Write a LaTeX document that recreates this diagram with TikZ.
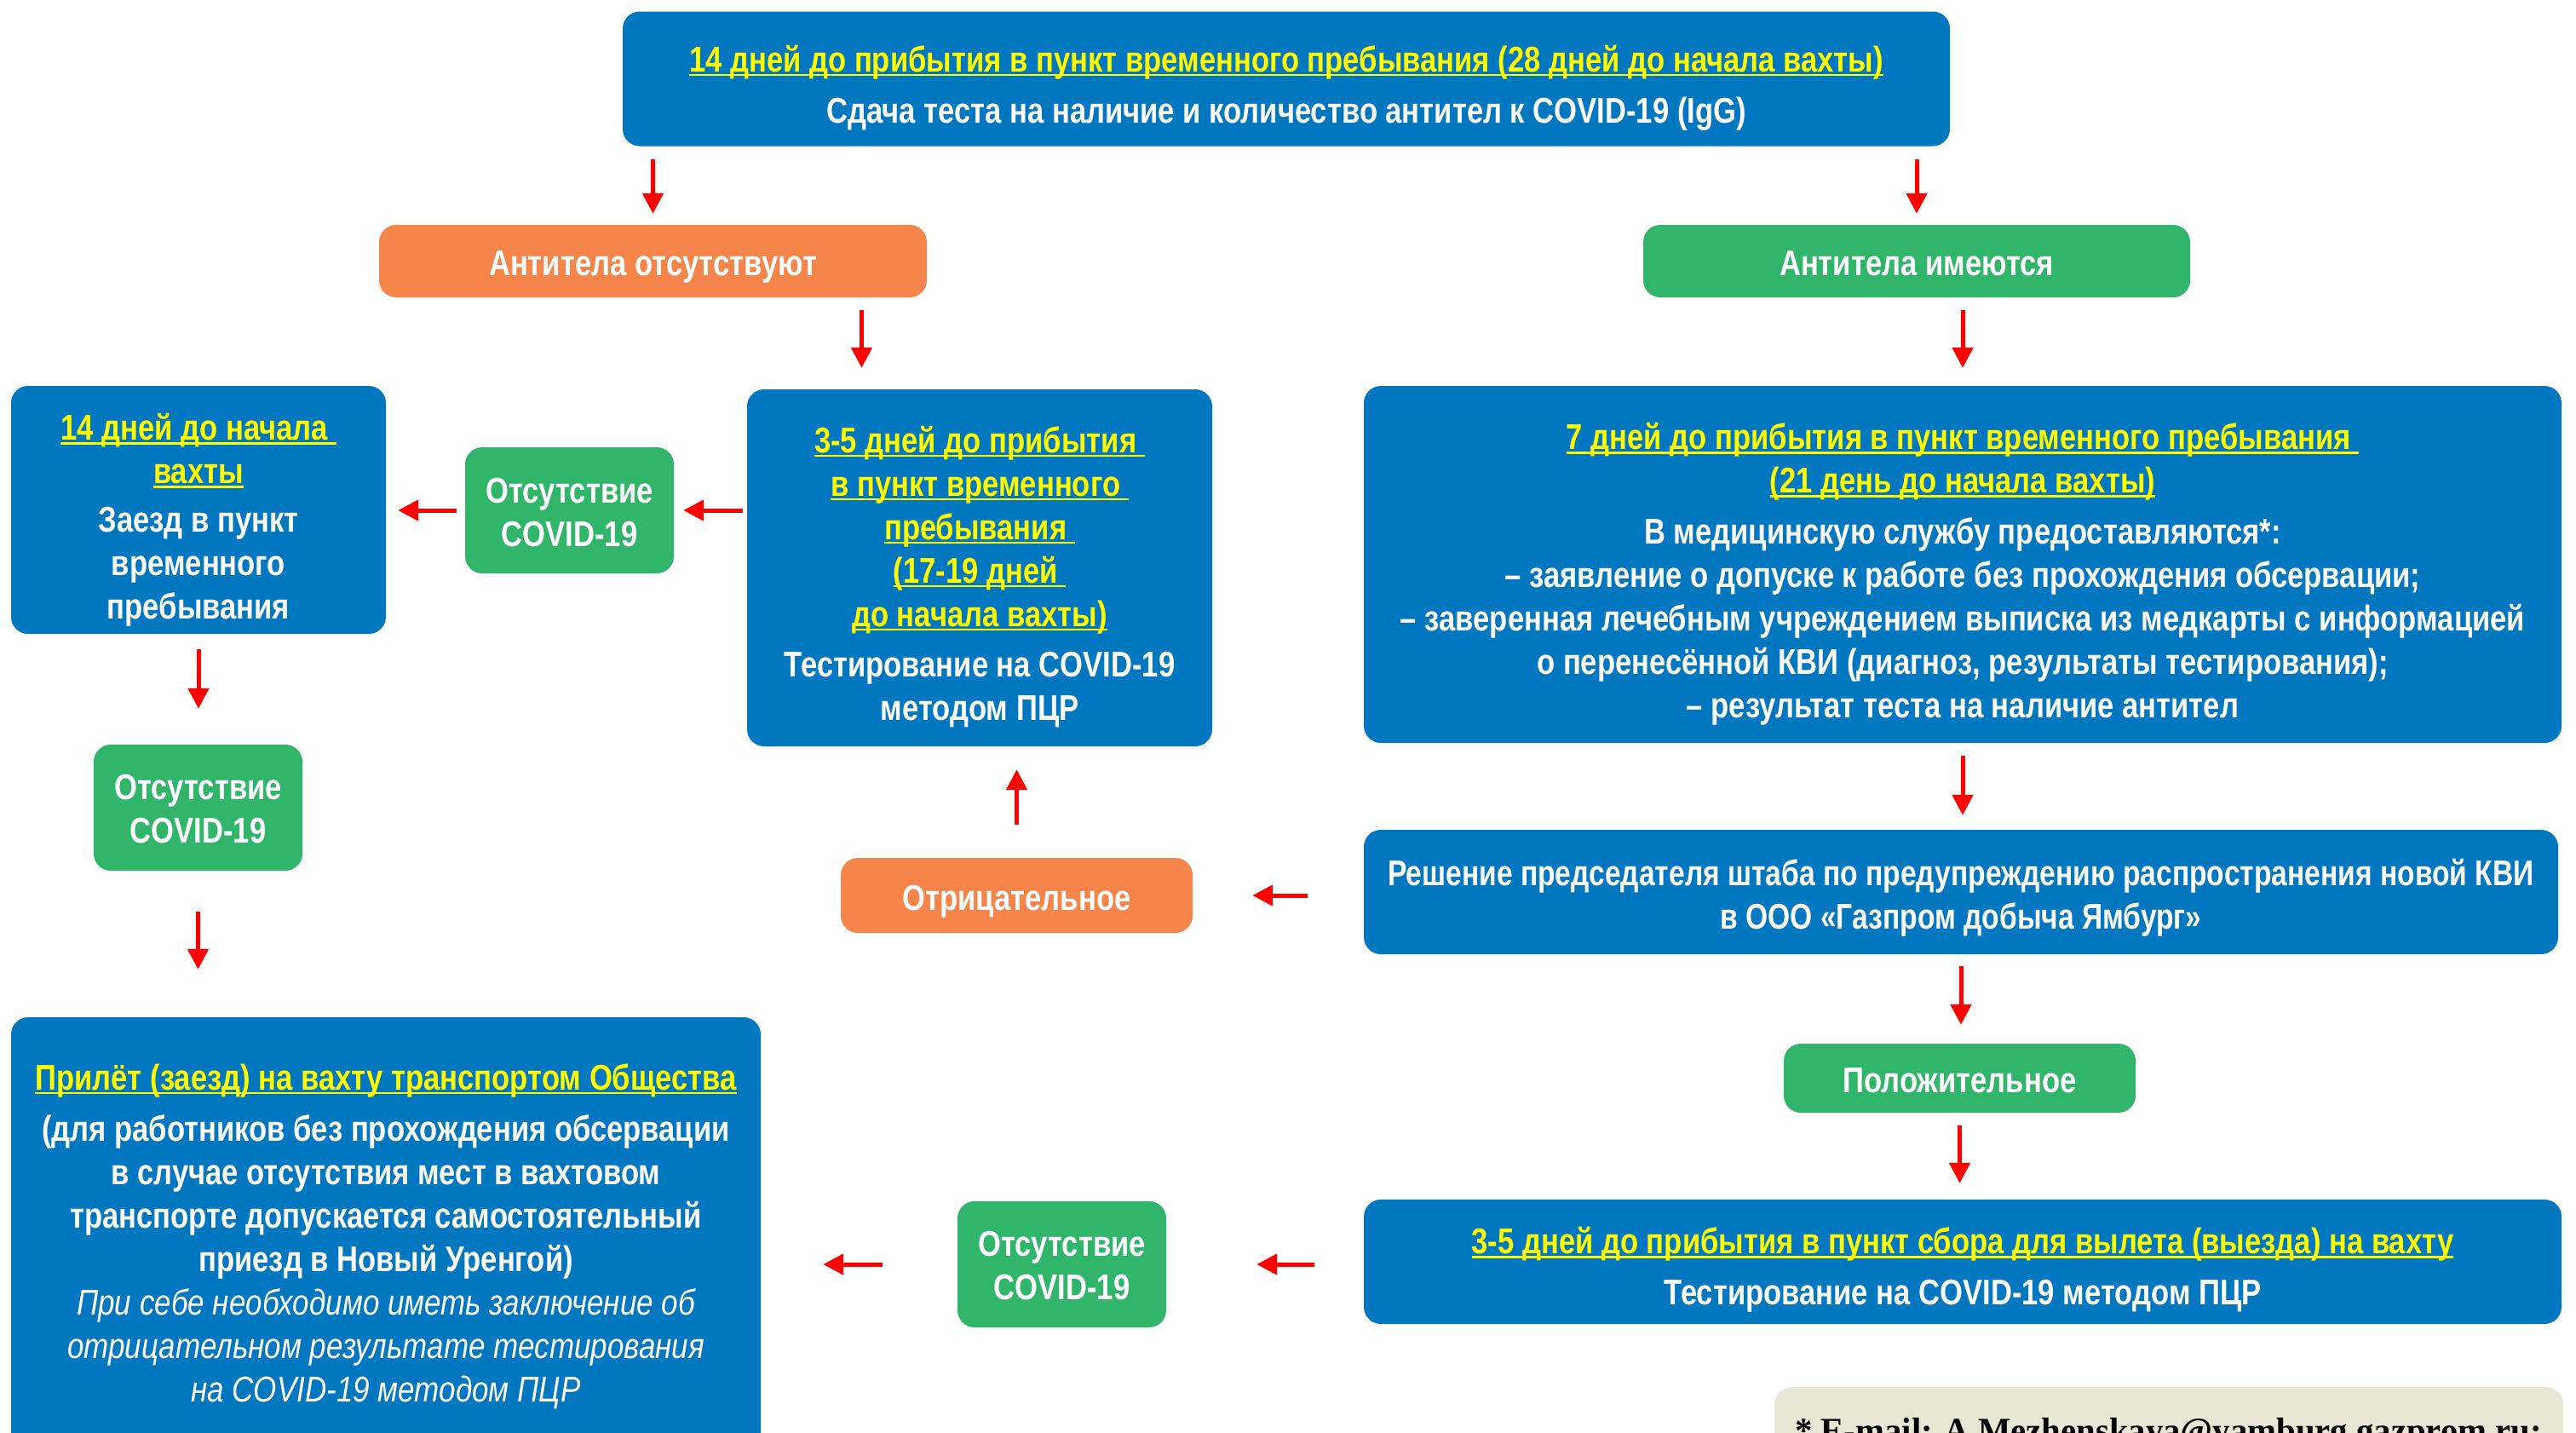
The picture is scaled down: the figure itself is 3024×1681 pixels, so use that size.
\documentclass[tikz,border=0pt]{standalone}
\usepackage{fontspec}
\setmainfont{Liberation Sans}[FakeStretch=0.824]
\newfontfamily\itfont{Liberation Sans}[FakeStretch=0.833]
\newfontfamily\reshfont{Liberation Sans}[FakeStretch=0.80]
\newfontfamily\emailfont{Liberation Serif}[FakeStretch=0.97]
\usetikzlibrary{arrows.meta}
\definecolor{bblue}{HTML}{0077BF}
\definecolor{borange}{HTML}{F5854A}
\definecolor{bgreen}{HTML}{31B56A}
\definecolor{byellow}{HTML}{FFFF00}
\definecolor{bred}{HTML}{FF0000}
\definecolor{beige}{HTML}{E8E6D4}
\newsavebox\yubox
\newcommand\yu[1]{\textcolor{byellow}{\sbox\yubox{#1}\rlap{\rule[-5pt]{\wd\yubox}{2.5pt}}\usebox\yubox}}
\newcommand\bfnt{\fontsize{42}{51}\selectfont\bfseries}
\newcommand\fst[1]{\rule{0pt}{#1pt}}
\newcommand\lst{\rule[-12pt]{0pt}{0pt}}
\tikzset{
  box/.style={rounded corners=20pt, fill=bblue, text=white, align=center, inner sep=0pt, font=\bfnt},
  obox/.style={box, fill=borange},
  gbox/.style={box, fill=bgreen},
  arr/.style={draw=bred, line width=5pt, -{Triangle[length=24pt,width=24pt]}},
}
\begin{document}
\begin{tikzpicture}[x=1pt,y=-1pt]
\clip (0,0) rectangle (3024,1681);
\fill[white] (0,0) rectangle (3024,1681);

\node[box, minimum width=1558pt, minimum height=158pt] (top) at (1510,92.5)
  {\fst{55.6}\yu{14 дней до прибытия в пункт временного пребывания (28 дней до начала вахты)}\\[9pt]
   Сдача теста на наличие и количество антител к COVID-19 (IgG)\lst};

\node[obox, minimum width=643pt, minimum height=85pt] (noab) at (766.5,306.5) {\fst{46.2}Антитела отсутствуют\lst};
\node[gbox, minimum width=642pt, minimum height=85pt] (yesab) at (2250,306.5) {\fst{46.2}Антитела имеются\lst};

\node[box, minimum width=440pt, minimum height=291pt] (left14) at (233,598.5)
  {\fst{58.1}\yu{14 дней до начала }\\ \yu{вахты}\\[6pt] Заезд в пункт\\ временного\\ пребывания\lst};

\node[gbox, minimum width=245pt, minimum height=148pt] (g1) at (668.5,599) {\fst{45.5}Отсутствие\\ COVID-19\lst};

\node[box, minimum width=546pt, minimum height=419pt] (b35) at (1150,666.5)
  {\fst{55.1}\yu{3-5 дней до прибытия }\\ \yu{в пункт временного }\\ \yu{пребывания }\\ \yu{(17-19 дней }\\ \yu{до начала вахты)}\\[8pt]
   Тестирование на COVID-19\\ методом ПЦР\lst};

\node[box, minimum width=1406pt, minimum height=419pt] (b7) at (2304,662.5)
  {\fst{57.4}\yu{7 дней до прибытия в пункт временного пребывания }\\ \yu{(21 день до начала вахты)}\\[9pt]
   В медицинскую службу предоставляются*:\\
   – заявление о допуске к работе без прохождения обсервации;\\
   – заверенная лечебным учреждением выписка из медкарты с информацией\\
   о перенесённой КВИ (диагноз, результаты тестирования);\\
   – результат теста на наличие антител\lst};

\node[gbox, minimum width=245pt, minimum height=148pt] (g2) at (232.5,948) {\fst{43.7}Отсутствие\\ COVID-19\lst};

\node[box, minimum width=880pt, minimum height=506pt] (bl) at (453,1447)
  {\fst{42.8}\yu{Прилёт (заезд) на вахту транспортом Общества}\\[9pt]
   (для работников без прохождения обсервации\\
   в случае отсутствия мест в вахтовом\\
   транспорте допускается самостоятельный\\
   приезд в Новый Уренгой)\\
   {\itfont\mdseries\itshape При себе необходимо иметь заключение об}\\
   {\itfont\mdseries\itshape отрицательном результате тестирования}\\
   {\itfont\mdseries\itshape на COVID-19 методом ПЦР}\lst};

\node[box, minimum width=1402pt, minimum height=146pt, font=\bfnt\reshfont] (resh) at (2302,1047)
  {\fst{48.3}Решение председателя штаба по предупреждению распространения новой КВИ\\
   в ООО «Газпром добыча Ямбург»\lst};

\node[obox, minimum width=413pt, minimum height=88pt] (neg) at (1193.5,1051) {\fst{46}Отрицательное\lst};
\node[gbox, minimum width=413pt, minimum height=81pt] (pos) at (2300.5,1265.5) {\fst{45.2}Положительное\lst};

\node[box, minimum width=1406pt, minimum height=146pt] (b35b) at (2304,1481)
  {\fst{53.9}\yu{3-5 дней до прибытия в пункт сбора для вылета (выезда) на вахту}\\[9pt]
   Тестирование на COVID-19 методом ПЦР\lst};

\node[gbox, minimum width=245pt, minimum height=148pt] (g3) at (1246.5,1484) {\fst{44}Отсутствие\\ COVID-19\lst};

\node[fill=beige, rounded corners=20pt, minimum width=926pt, minimum height=112pt, inner sep=0pt, anchor=north west] (em) at (2083,1628) {};
\node[anchor=base west, inner sep=0pt, font=\emailfont\bfseries\fontsize{42}{50}\selectfont] (emt) at (2107,1693)
  {* E-mail: A.Mezhenskaya@yamburg.gazprom.ru;};

\draw[arr, shorten <=15pt, shorten >=13pt] (top.south -| noab.north) -- (noab.north);
\draw[arr, shorten <=15pt, shorten >=13pt] (top.south -| yesab.north) -- (yesab.north);
\draw[arr, shorten <=15pt, shorten >=25pt] ([xshift=245pt]noab.south) -- ([xshift=245pt]noab.south |- b35.north);
\draw[arr, shorten <=15pt, shorten >=21pt] (yesab.south -| b7.north) -- (b7.north);
\draw[arr, shorten <=5pt, shorten >=11pt] (b35.west |- g1.east) -- (g1.east);
\draw[arr, shorten <=10pt, shorten >=14pt] (g1.west) -- (g1.west -| left14.east);
\draw[arr, shorten <=18pt, shorten >=42pt] (left14.south) -- (left14.south |- g2.north);
\draw[arr, shorten <=48pt, shorten >=56pt] (g2.south) -- (g2.south |- bl.north);
\draw[arr, shorten <=15pt, shorten >=17pt] (b7.south) -- (b7.south |- resh.north);
\draw[arr, shorten <=66pt, shorten >=70pt] (resh.west |- neg.east) -- (neg.east);
\draw[arr, shorten <=39pt, shorten >=27pt] (neg.north) -- (neg.north |- b35.south);
\draw[arr, shorten <=14pt, shorten >=22pt] (resh.south) -- (resh.south |- pos.north);
\draw[arr, shorten <=15pt, shorten >=19pt] (pos.south) -- (pos.south |- b35b.north);
\draw[arr, shorten <=58pt, shorten >=106pt] (b35b.west |- g3.east) -- (g3.east);
\draw[arr, shorten <=88pt, shorten >=73pt] (g3.west) -- (g3.west -| bl.east);
\end{tikzpicture}
\end{document}
